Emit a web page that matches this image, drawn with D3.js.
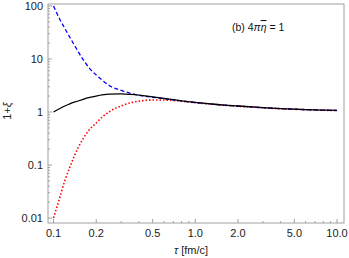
<!DOCTYPE html>
<html><head><meta charset="utf-8">
<script src="https://cdn.jsdelivr.net/npm/d3@7"></script>
<style>body{margin:0;background:#fff}svg{display:block}text{font-family:"Liberation Sans",Arial,sans-serif}</style>
</head><body><svg id="c" width="349" height="258"></svg>
<script>
const tau = [0.1,0.11,0.12,0.13,0.14,0.16,0.18,0.2,0.22,0.25,0.3,0.35,0.4,0.5,0.6,0.7,0.8,1.0,1.3,1.6,2.0,2.5,3,4,5,6,7,8,10];
const blackVals = [1.0,1.15,1.3,1.42,1.53,1.72,1.88,2.0,2.1,2.18,2.2,2.15,2.08,1.93,1.81,1.71,1.63,1.52,1.42,1.35,1.3,1.25,1.21,1.16,1.13,1.11,1.095,1.085,1.07];
const blueVals  = [100,58,38,26,18.5,10.2,6.6,5.0,4.0,3.1,2.55,2.25,2.07,1.9,1.79,1.7,1.62,1.51,1.415,1.345,1.295,1.245,1.205,1.158,1.128,1.108,1.093,1.083,1.068];
const redVals   = [0.01,0.023,0.05,0.09,0.147,0.3,0.47,0.62,0.8,1.03,1.3,1.5,1.6,1.68,1.68,1.65,1.6,1.5,1.41,1.34,1.29,1.24,1.2,1.155,1.125,1.105,1.09,1.08,1.066];
const xTicks = [0.1,0.2,0.5,1.0,2.0,5.0,10.0];
const xTickLabels = ["0.1","0.2","0.5","1.0","2.0","5.0","10.0"];
const yTicks = [0.01,0.1,1,10,100];
const yTickLabels = ["0.01","0.1","1","10","100"];

const svg = d3.select("#c");
const L=48, R=344, T=4, B=223;
const x = d3.scaleLog().domain([0.0914, 11.2]).range([L, R]);
const y = d3.scaleLog().domain([Math.pow(10,-2.094), Math.pow(10,2.038)]).range([B, T]);

const xMinor = [];
[0.1,1].forEach(d=>{for(let k=2;k<=9;k++){const v=d*k; if(!xTicks.includes(+v.toFixed(3))) xMinor.push(v);}});
const yMinor = [];
[0.01,0.1,1,10].forEach(d=>{for(let k=2;k<=9;k++) yMinor.push(d*k);});

const g = svg.append("g");
const tickCol = "#888";
g.selectAll(".xm").data(xMinor).enter().append("line")
 .attr("x1",d=>x(d)).attr("x2",d=>x(d)).attr("y1",B).attr("y2",B-2).attr("stroke",tickCol).attr("stroke-width",0.8);
g.selectAll(".xM").data(xTicks).enter().append("line")
 .attr("x1",d=>x(d)).attr("x2",d=>x(d)).attr("y1",B).attr("y2",B-4).attr("stroke",tickCol).attr("stroke-width",0.8);
g.selectAll(".ym").data(yMinor).enter().append("line")
 .attr("y1",d=>y(d)).attr("y2",d=>y(d)).attr("x1",L).attr("x2",L+2).attr("stroke",tickCol).attr("stroke-width",0.8);
g.selectAll(".yM").data(yTicks).enter().append("line")
 .attr("y1",d=>y(d)).attr("y2",d=>y(d)).attr("x1",L).attr("x2",L+4).attr("stroke",tickCol).attr("stroke-width",0.8);

svg.append("rect").attr("x",L).attr("y",T).attr("width",R-L).attr("height",B-T)
 .attr("fill","none").attr("stroke","#a0a0a0").attr("stroke-width",1);

svg.selectAll(".xl").data(xTicks).enter().append("text")
 .attr("x",d=>x(d)).attr("y",236.5).attr("text-anchor","middle").attr("font-size",11).attr("fill","#222")
 .text((d,i)=>xTickLabels[i]);
svg.selectAll(".yl").data(yTicks).enter().append("text")
 .attr("x",L-5).attr("y",d=>y(d)+4).attr("text-anchor","end").attr("font-size",11).attr("fill","#222")
 .text((d,i)=>yTickLabels[i]);

const line = (vals)=>d3.line().x((d,i)=>x(tau[i])).y(d=>y(d)).curve(d3.curveMonotoneX)(vals);
const cg = svg.append("g");
cg.append("path").attr("d",line(redVals)).attr("fill","none").attr("stroke","#ff0000").attr("stroke-width",1.6).attr("stroke-dasharray","1.5,2");
cg.append("path").attr("d",line(blueVals)).attr("fill","none").attr("stroke","#0000ff").attr("stroke-width",1.3).attr("stroke-dasharray","4,2.5");
cg.append("path").attr("d",line(blackVals)).attr("fill","none").attr("stroke","#000").attr("stroke-width",1.3);

const xt = svg.append("text").attr("x",191).attr("y",254).attr("text-anchor","middle").attr("font-size",11).attr("fill","#222");
xt.append("tspan").attr("font-style","italic").text("τ");
xt.append("tspan").text(" [fm/c]");
const yt = svg.append("text").attr("transform","translate(11,111) rotate(-90)").attr("text-anchor","middle").attr("font-size",11).attr("fill","#222");
yt.append("tspan").text("1+");
yt.append("tspan").attr("font-style","italic").text("ξ");

const an = svg.append("text").attr("x",232).attr("y",31).attr("font-size",10.5).attr("fill","#111");
an.append("tspan").text("(b) 4");
an.append("tspan").attr("font-style","italic").text("π");
an.append("tspan").attr("font-style","italic").attr("text-decoration","overline").text("η");
an.append("tspan").text(" = 1");
</script></body></html>
